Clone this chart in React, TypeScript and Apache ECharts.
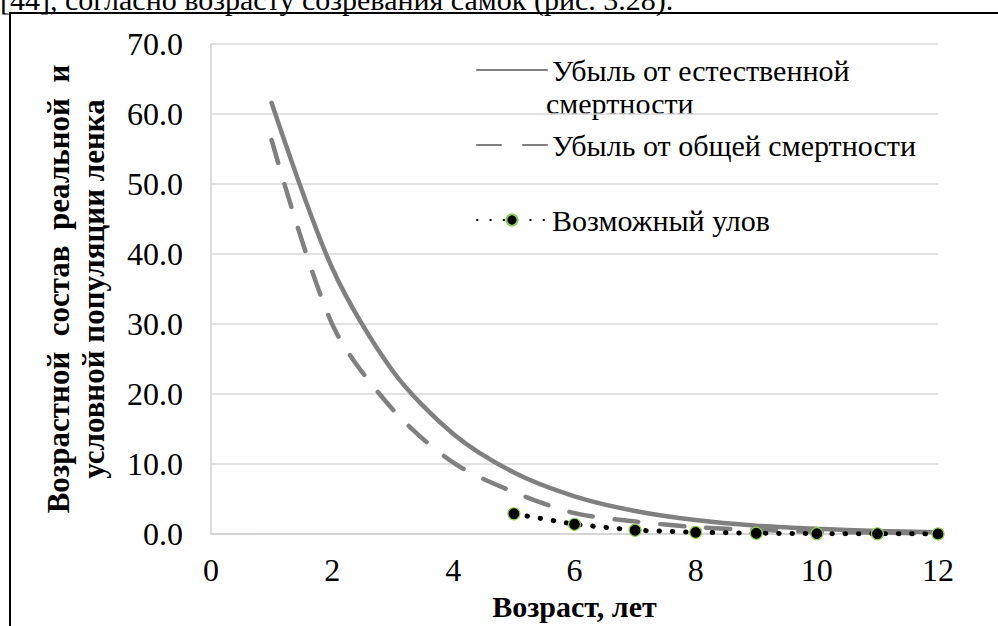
import React, { useEffect, useRef } from "react";
import * as echarts from "echarts";

const ages = [1, 2, 3, 4, 5, 6, 7, 8, 9, 10, 11, 12];
const naturalLoss = [61.6, 38.0, 23.3, 14.3, 8.8, 5.4, 3.3, 2.0, 1.2, 0.75, 0.45, 0.28];
const totalLoss = [56.3, 30.0, 17.8, 10.2, 6.0, 3.0, 1.8, 1.0, 0.6, 0.35, 0.2, 0.1];
const catchAges = [5, 6, 7, 8, 9, 10, 11, 12];
const possibleCatch = [2.9, 1.4, 0.55, 0.25, 0.12, 0.06, 0.04, 0.03];

const seriesNames = [
  "Убыль от естественной смертности",
  "Убыль от общей смертности",
  "Возможный улов",
];
const xTitle = "Возраст, лет";
const yTitle = "Возрастной  состав  реальной  и\nусловной популяции ленка";
const topText = "[44], согласно возрасту созревания самок (рис. 3.28).";

const FONT = "Liberation Serif";

export default function App() {
  const ref = useRef<HTMLDivElement>(null);
  useEffect(() => {
    if (!ref.current) return;
    const chart = echarts.init(ref.current, null, { renderer: "svg" });
    const txt = (size: number, bold = false) => ({
      fontFamily: FONT,
      fontSize: size,
      fontWeight: bold ? ("bold" as const) : ("normal" as const),
      color: "#000",
    });
    const legendBase = {
      orient: "horizontal" as const,
      left: 471,
      itemWidth: 70,
      itemHeight: 14,
      itemGap: 0,
      selectedMode: false,
      textStyle: { ...txt(30), lineHeight: 30 },
    };
    const hideSym = { itemStyle: { opacity: 0 } };
    chart.setOption({
      animation: false,
      backgroundColor: "#fff",
      textStyle: txt(30),
      grid: { left: 211, right: 60, top: 44, bottom: 91, containLabel: false },
      xAxis: {
        type: "value",
        min: 0,
        max: 12,
        interval: 2,
        name: xTitle,
        nameLocation: "middle",
        nameGap: 54,
        nameTextStyle: txt(30, true),
        axisLine: { show: true, lineStyle: { color: "#d0d0d0", width: 1.5 } },
        axisTick: { show: false },
        splitLine: { show: false },
        axisLabel: { ...txt(32), margin: 20 },
      },
      yAxis: {
        type: "value",
        min: 0,
        max: 70,
        interval: 10,
        name: yTitle,
        nameLocation: "middle",
        nameRotate: 90,
        nameGap: 100,
        nameTextStyle: { ...txt(31, true), lineHeight: 35 },
        axisLine: { show: true, lineStyle: { color: "#d0d0d0", width: 1.5 } },
        axisTick: { show: false },
        splitLine: { show: true, lineStyle: { color: "#d9d9d9", width: 1.5 } },
        axisLabel: {
          ...txt(32),
          margin: 28,
          formatter: (v: number) => v.toFixed(1),
        },
      },
      legend: [
        {
          ...legendBase,
          top: 50,
          data: [{ name: seriesNames[0], ...hideSym }],
          formatter: () => "Убыль от естественной",
        },
        { ...legendBase, top: 125, data: [{ name: seriesNames[1], ...hideSym }] },
        { ...legendBase, top: 200, data: [seriesNames[2]] },
      ],
      graphic: [
        {
          type: "rect",
          shape: { x: 10, y: 13, width: 1000, height: 700 },
          style: { fill: "none", stroke: "#000", lineWidth: 2 },
          silent: true,
        },
        {
          type: "text",
          x: 546,
          y: 88,
          style: { text: "смертности", fontFamily: FONT, fontSize: 30, fill: "#000" },
          silent: true,
        },
        {
          type: "text",
          x: 0,
          y: 14,
          style: {
            text: topText,
            fontFamily: FONT,
            fontSize: 30,
            fill: "#000",
            verticalAlign: "bottom",
          },
          silent: true,
        },
      ],
      series: [
        {
          name: seriesNames[0],
          type: "line",
          data: ages.map((a, i) => [a, naturalLoss[i]]),
          symbol: "none",
          smooth: 0.3,
          lineStyle: { color: "#808080", width: 4.5, cap: "round" },
          itemStyle: { color: "#808080" },
          z: 2,
        },
        {
          name: seriesNames[1],
          type: "line",
          data: ages.map((a, i) => [a, totalLoss[i]]),
          symbol: "none",
          smooth: 0.3,
          lineStyle: { color: "#808080", width: 4.5, type: [24, 22], cap: "round" },
          itemStyle: { color: "#808080" },
          z: 3,
        },
        {
          name: seriesNames[2],
          type: "line",
          data: catchAges.map((a, i) => [a, possibleCatch[i]]),
          symbol: "circle",
          symbolSize: 12,
          lineStyle: { color: "#000", width: 5, type: [0.5, 12.8], cap: "round" },
          itemStyle: { color: "#000", borderColor: "#92d050", borderWidth: 1.2 },
          z: 4,
        },
      ],
    });
    return () => chart.dispose();
  }, []);
  return (
    <div
      ref={ref}
      style={{ position: "absolute", left: 0, top: 0, width: 998, height: 626, background: "#fff" }}
    />
  );
}
